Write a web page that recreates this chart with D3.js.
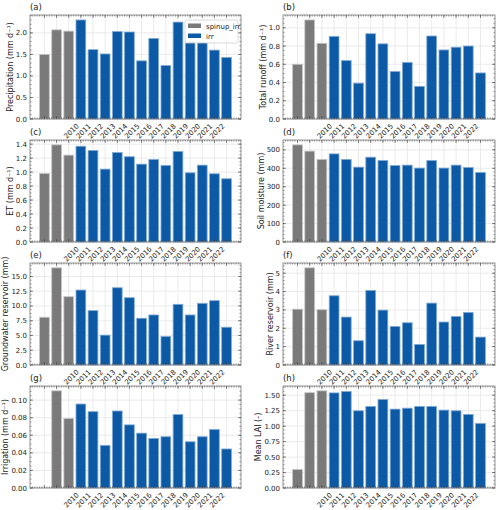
<!DOCTYPE html>
<html>
<head>
<meta charset="utf-8">
<script src="https://cdn.jsdelivr.net/npm/d3@7"></script>
<style>
  body { margin: 0; background: #fff; }
  text { font-family: "DejaVu Sans", sans-serif; fill: #222; }
</style>
</head>
<body>
<div id="container"></div>
<script>
// x positions: 3 spin-up years, then 2010-2022
var xLabels = ["", "", "", "2010", "2011", "2012", "2013", "2014", "2015", "2016", "2017", "2018", "2019", "2020", "2021", "2022"];
var seriesOf = ["spinup_irr", "spinup_irr", "spinup_irr", "irr", "irr", "irr", "irr", "irr", "irr", "irr", "irr", "irr", "irr", "irr", "irr", "irr"];
var seriesNames = ["spinup_irr", "irr"];

var precipitation = [1.50, 2.07, 2.04, 2.30, 1.61, 1.51, 2.03, 2.02, 1.35, 1.87, 1.24, 2.25, 1.79, 1.78, 1.60, 1.43];
var runoff = [0.60, 1.086, 0.83, 0.906, 0.64, 0.393, 0.935, 0.824, 0.52, 0.62, 0.358, 0.91, 0.757, 0.787, 0.80, 0.505];
var et = [0.98, 1.39, 1.243, 1.37, 1.31, 1.043, 1.28, 1.22, 1.114, 1.18, 1.095, 1.295, 0.99, 1.10, 0.976, 0.905];
var soilMoisture = [527, 493, 448, 478, 448, 406, 460, 442, 415, 417, 401, 442, 401, 417, 404, 377];
var groundwater = [8.09, 16.46, 11.57, 12.7, 9.21, 5.06, 13.09, 11.4, 7.92, 8.48, 4.83, 10.28, 8.48, 10.45, 10.9, 6.4];
var river = [3.04, 5.29, 3.01, 3.77, 2.61, 1.32, 4.06, 2.99, 2.10, 2.30, 1.12, 3.37, 2.34, 2.64, 2.86, 1.52];
var irrigation = [0, 0.1105, 0.079, 0.0955, 0.0868, 0.0485, 0.0876, 0.0718, 0.0624, 0.0564, 0.0583, 0.0835, 0.0526, 0.0583, 0.0665, 0.0444];
var lai = [0.30, 1.54, 1.57, 1.537, 1.56, 1.248, 1.318, 1.43, 1.275, 1.29, 1.318, 1.318, 1.259, 1.248, 1.19, 1.044];

var precipTicks = [0, 0.5, 1.0, 1.5, 2.0];
var runoffTicks = [0, 0.2, 0.4, 0.6, 0.8, 1.0];
var etTicks = [0, 0.2, 0.4, 0.6, 0.8, 1.0, 1.2, 1.4];
var soilTicks = [0, 100, 200, 300, 400, 500];
var gwTicks = [0, 2.5, 5.0, 7.5, 10.0, 12.5, 15.0];
var riverTicks = [0, 1, 2, 3, 4, 5];
var irrTicks = [0, 0.02, 0.04, 0.06, 0.08, 0.10];
var laiTicks = [0, 0.25, 0.5, 0.75, 1.0, 1.25, 1.5];

var colors = { "spinup_irr": "#7a7a7a", "irr": "#0c5aa6" };
var edges = { "spinup_irr": "#c4c4c4", "irr": "#7fa9d6" };

var width = 500, height = 510;
var colLeft = [30, 283], colRight = [241, 495];
var rowTop = [15, 140, 263, 386], rowBottom = [119, 242, 365, 488];

var panels = [
  { tag: "(a)", label: "Precipitation (mm d\u207B\u00B9)", values: precipitation, ticks: precipTicks, fmt: ".1f", minor: 5, legend: true },
  { tag: "(b)", label: "Total runoff (mm d\u207B\u00B9)", values: runoff, ticks: runoffTicks, fmt: ".1f", minor: 4 },
  { tag: "(c)", label: "ET (mm d\u207B\u00B9)", values: et, ticks: etTicks, fmt: ".1f", minor: 4 },
  { tag: "(d)", label: "Soil moisture (mm)", values: soilMoisture, ticks: soilTicks, fmt: "d", minor: 5 },
  { tag: "(e)", label: "Groundwater reservoir (mm)", values: groundwater, ticks: gwTicks, fmt: ".1f", minor: 4 },
  { tag: "(f)", label: "River reservoir (mm)", values: river, ticks: riverTicks, fmt: "d", minor: 5 },
  { tag: "(g)", label: "Irrigation (mm d\u207B\u00B9)", values: irrigation, ticks: irrTicks, fmt: ".2f", minor: 4 },
  { tag: "(h)", label: "Mean LAI (-)", values: lai, ticks: laiTicks, fmt: ".2f", minor: 4 }
];

var svg = d3.select("#container").append("svg")
  .attr("width", width)
  .attr("height", height);
svg.append("rect").attr("width", width).attr("height", height).attr("fill", "#fff");

var n = xLabels.length;

panels.forEach(function(p, k) {
  var col = k % 2, row = Math.floor(k / 2);
  var left = colLeft[col], right = colRight[col], top = rowTop[row], bottom = rowBottom[row];
  var ymax = d3.max(p.values) * 1.05;

  var x = d3.scaleLinear().domain([-1.19, n - 1 + 1.19]).range([left, right]);
  var y = d3.scaleLinear().domain([0, ymax]).range([bottom, top]);
  var bw = x(0.8) - x(0);

  var g = svg.append("g");

  // grid
  g.selectAll(".vgrid").data(d3.range(n)).enter().append("line")
    .attr("x1", function(d) { return x(d); }).attr("x2", function(d) { return x(d); })
    .attr("y1", top).attr("y2", bottom)
    .attr("stroke", "#e6e6e6").attr("stroke-width", 0.8);
  g.selectAll(".hgrid").data(p.ticks).enter().append("line")
    .attr("x1", left).attr("x2", right)
    .attr("y1", function(d) { return y(d); }).attr("y2", function(d) { return y(d); })
    .attr("stroke", "#e6e6e6").attr("stroke-width", 0.8);

  // bars
  g.selectAll(".bar").data(p.values).enter().append("rect")
    .attr("x", function(d, i) { return x(i) - bw / 2; })
    .attr("y", function(d) { return y(d); })
    .attr("width", bw)
    .attr("height", function(d) { return y(0) - y(d); })
    .attr("fill", function(d, i) { return colors[seriesOf[i]]; })
    .attr("stroke", function(d, i) { return d > 0 ? edges[seriesOf[i]] : "none"; })
    .attr("stroke-width", 0.8);

  // frame
  g.append("rect").attr("x", left).attr("y", top)
    .attr("width", right - left).attr("height", bottom - top)
    .attr("fill", "none").attr("stroke", "#888").attr("stroke-width", 0.9);

  // x ticks (inward, bottom and top)
  var xMinor = d3.range(-1, n + 0.01, 0.2).filter(function(v) { return x(v) > left && x(v) < right; });
  g.selectAll(".xminor").data(xMinor).enter().append("path")
    .attr("d", function(d) {
      return "M" + x(d) + "," + bottom + "v-1.6M" + x(d) + "," + top + "v1.6";
    })
    .attr("stroke", "#444").attr("stroke-width", 0.5);
  g.selectAll(".xmajor").data(d3.range(n)).enter().append("path")
    .attr("d", function(d) {
      return "M" + x(d) + "," + bottom + "v-3M" + x(d) + "," + top + "v3";
    })
    .attr("stroke", "#444").attr("stroke-width", 0.6);

  // x tick labels
  g.selectAll(".xlab").data(xLabels).enter().append("text")
    .filter(function(d) { return d !== ""; })
    .attr("transform", function(d, i) {
      var idx = xLabels.indexOf(d);
      return "translate(" + (x(idx) - 1.5) + "," + (bottom + 7.5) + ") rotate(-45)";
    })
    .attr("text-anchor", "end")
    .style("font-size", "7px")
    .text(function(d) { return d; });

  // y ticks
  var step = p.ticks[1] - p.ticks[0];
  var yMinor = d3.range(0, ymax, step / p.minor);
  g.selectAll(".yminor").data(yMinor).enter().append("path")
    .attr("d", function(d) {
      return "M" + left + "," + y(d) + "h1.6M" + right + "," + y(d) + "h-1.6";
    })
    .attr("stroke", "#444").attr("stroke-width", 0.5);
  g.selectAll(".ymajor").data(p.ticks).enter().append("path")
    .attr("d", function(d) {
      return "M" + left + "," + y(d) + "h3M" + right + "," + y(d) + "h-3";
    })
    .attr("stroke", "#444").attr("stroke-width", 0.6);

  var fmt = d3.format(p.fmt);
  var maxW = 0;
  g.selectAll(".ylab").data(p.ticks).enter().append("text")
    .attr("x", left - 3)
    .attr("y", function(d) { return y(d) + 2.5; })
    .attr("text-anchor", "end")
    .style("font-size", "7px")
    .text(function(d) { return fmt(d); })
    .each(function() { maxW = Math.max(maxW, this.getComputedTextLength()); });

  // axis label
  var lx = left - 3 - maxW - 3;
  g.append("text")
    .attr("transform", "translate(" + lx + "," + ((top + bottom) / 2) + ") rotate(-90)")
    .attr("text-anchor", "middle")
    .style("font-size", "8px")
    .text(p.label);

  // panel tag
  g.append("text")
    .attr("x", left)
    .attr("y", top - 5)
    .style("font-size", "8.5px")
    .text(p.tag);

  if (p.legend) {
    var lg = g.append("g").attr("transform", "translate(" + (right - 56) + "," + (top + 5) + ")");
    lg.append("rect").attr("width", 53).attr("height", 23).attr("rx", 1.5)
      .attr("fill", "#fff").attr("fill-opacity", 0.85)
      .attr("stroke", "#d0d0d0").attr("stroke-width", 0.8);
    seriesNames.forEach(function(s, j) {
      lg.append("rect").attr("x", 3).attr("y", 3.5 + j * 10).attr("width", 13).attr("height", 4.5)
        .attr("fill", colors[s]);
      lg.append("text").attr("x", 21).attr("y", 8.5 + j * 10)
        .style("font-size", "7px").text(s);
    });
  }
});
</script>
</body>
</html>
